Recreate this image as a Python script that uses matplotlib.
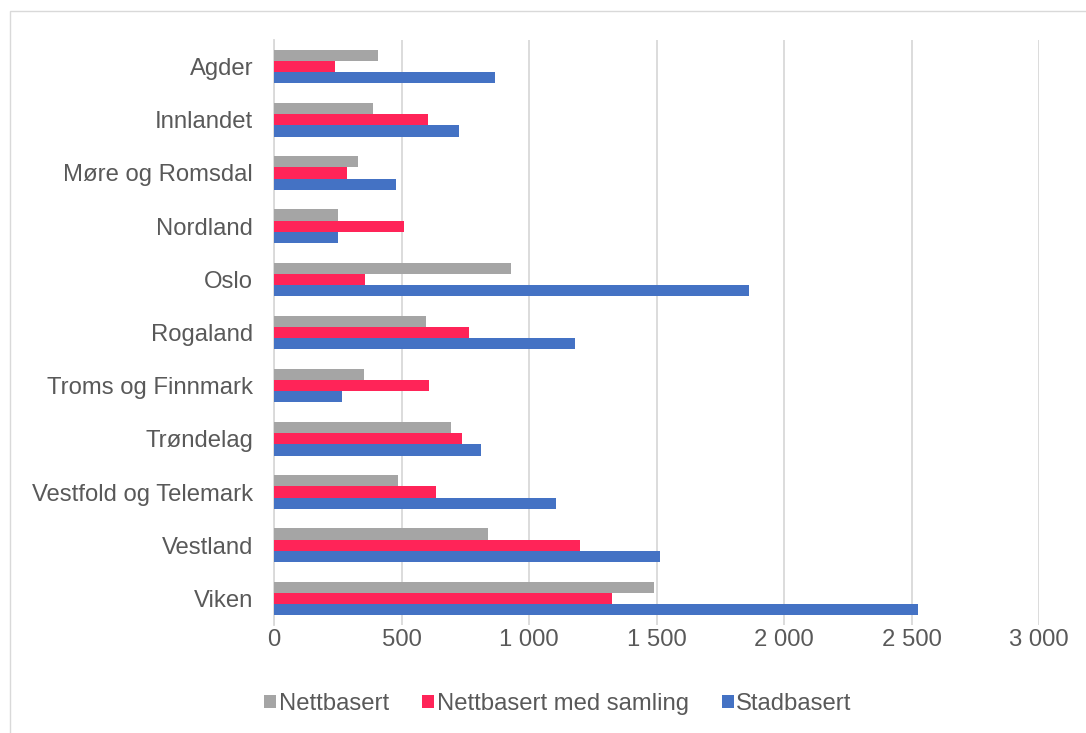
import matplotlib
matplotlib.use("Agg")
import matplotlib.pyplot as plt
import numpy as np
from matplotlib.patches import Rectangle

categories = ["Agder", "Innlandet", "Møre og Romsdal", "Nordland", "Oslo", "Rogaland",
              "Troms og Finnmark", "Trøndelag", "Vestfold og Telemark", "Vestland", "Viken"]
nettbasert = [409, 389, 328, 251, 928, 596, 353, 695, 488, 839, 1491]
nettbasert_samling = [240, 602, 288, 511, 358, 763, 609, 739, 635, 1200, 1325]
stadbasert = [865, 726, 477, 251, 1863, 1181, 265, 812, 1105, 1514, 2526]
series_names = ["Nettbasert", "Nettbasert med samling", "Stadbasert"]
colors = ["#A5A5A5", "#FF2458", "#4472C4"]
xticks = [0, 500, 1000, 1500, 2000, 2500, 3000]
xticklabels = ["0", "500", "1 000", "1 500", "2 000", "2 500", "3 000"]

plt.rcParams['font.family'] = ['Liberation Sans', 'DejaVu Sans']
W, H = 1086, 733
FS = 17.2
fig = plt.figure(figsize=(W/100, H/100), dpi=100)
ax = fig.add_axes([274/W, 1-625/H, (1039-274)/W, (625-40)/H])

y = np.arange(len(categories))
bh = 0.21
for i, (vals, name, c) in enumerate(zip([nettbasert, nettbasert_samling, stadbasert], series_names, colors)):
    ax.barh(y + (i-1)*bh, vals, height=bh, color=c, label=name, zorder=3)

ax.set_ylim(len(categories)-0.5, -0.5)
ax.set_xlim(0, 3000)
ax.set_yticks(y)
ax.set_yticklabels(categories, fontsize=FS, color="#595959")
ax.set_xticks(xticks)
ax.set_xticklabels(xticklabels, fontsize=FS, color="#595959")
ax.tick_params(axis='both', length=0)
ax.tick_params(axis='y', pad=15)
ax.tick_params(axis='x', pad=3)
ax.grid(axis='x', color="#D9D9D9", linewidth=1.3, zorder=0)
for s in ['top', 'right', 'bottom']:
    ax.spines[s].set_visible(False)
ax.spines['left'].set_color("#D9D9D9")
ax.spines['left'].set_linewidth(1.3)

leg = fig.legend(loc='center', bbox_to_anchor=(558/W, 1-704/H), ncol=3, frameon=False,
                 fontsize=FS, handlelength=0.5, handleheight=0.5, handletextpad=0.1,
                 columnspacing=1.4, labelcolor="#595959")

fig.patches.append(Rectangle((9.5/W, -0.1), 1.2, 1-11/H+0.1, transform=fig.transFigure,
                             fill=False, edgecolor="#D9D9D9", linewidth=1.0))

fig.savefig("out.png", dpi=100, facecolor="white")
